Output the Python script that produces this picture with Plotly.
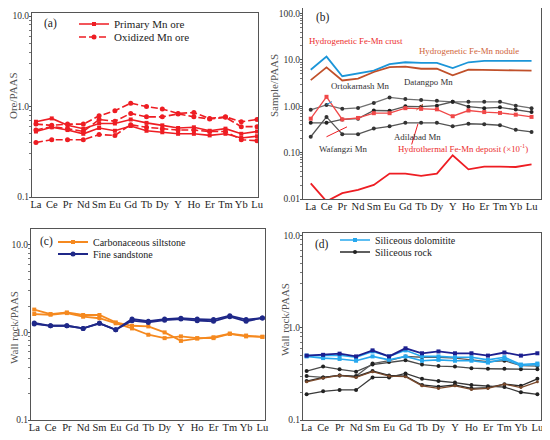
import plotly.graph_objects as go
from plotly.subplots import make_subplots

ree = ["La", "Ce", "Pr", "Nd", "Sm", "Eu", "Gd", "Tb", "Dy", "Y", "Ho", "Er", "Tm", "Yb", "Lu"]

# (a) Mn ores normalised to PAAS
primary_ore = [
    [0.68, 0.74, 0.62, 0.57, 0.65, 0.65, 0.72, 0.66, 0.62, 0.58, 0.59, 0.54, 0.57, 0.50, 0.53],
    [0.53, 0.59, 0.55, 0.50, 0.58, 0.54, 0.61, 0.54, 0.52, 0.50, 0.50, 0.48, 0.50, 0.45, 0.47],
]
oxidized_ore = [
    [0.64, 0.62, 0.64, 0.64, 0.79, 0.90, 1.09, 1.00, 0.94, 0.84, 0.86, 0.74, 0.77, 0.68, 0.72],
    [0.55, 0.60, 0.57, 0.53, 0.72, 0.69, 0.84, 0.77, 0.77, 0.83, 0.77, 0.73, 0.76, 0.60, 0.60],
    [0.40, 0.43, 0.43, 0.43, 0.49, 0.48, 0.63, 0.59, 0.57, 0.55, 0.55, 0.53, 0.53, 0.43, 0.42],
]

# (b) reference deposits
fe_mn_crust = [6.15, 11.8, 4.45, 5.06, 5.86, 8.1, 8.9, 8.6, 8.6, 6.67, 8.9, 9.5, 9.5, 9.2, 9.5]
fe_mn_nodule = [3.66, 6.9, 3.6, 3.97, 5.49, 7.0, 7.2, 6.45, 6.45, 4.67, 6.15, 6.15, 6.15, 5.95, 5.86]
datangpo = [0.84, 1.07, 0.88, 0.92, 1.18, 1.55, 1.43, 1.36, 1.32, 1.25, 1.25, 1.25, 1.25, 1.03, 0.91]
gray_mn = [0.44, 0.44, 0.52, 0.54, 0.81, 0.80, 1.0, 0.98, 1.03, 1.25, 0.98, 0.91, 0.95, 0.85, 0.75]
ortokarnash = [0.54, 1.6, 0.52, 0.56, 0.71, 0.71, 0.91, 0.88, 0.86, 0.61, 0.81, 0.75, 0.72, 0.66, 0.59]
wafangzi = [0.22, 0.59, 0.25, 0.25, 0.33, 0.37, 0.44, 0.44, 0.44, 0.37, 0.42, 0.41, 0.39, 0.31, 0.28]
hydrothermal = [0.0218, 0.0089, 0.0134, 0.0157, 0.0201, 0.0354, 0.0354, 0.0316, 0.0354, 0.088,
                0.0437, 0.0498, 0.0498, 0.049, 0.0558]

# (c) wall rocks
carb_siltstone = [
    [1.82, 1.62, 1.69, 1.58, 1.58, 1.30, 1.19, 1.17, 1.0, 0.80, 0.85, 0.88, 0.97, 0.92, 0.89],
    [1.62, 1.59, 1.66, 1.51, 1.45, 1.27, 1.11, 0.94, 0.86, 0.90, 0.86, 0.86, 0.96, 0.90, 0.89],
]
fine_sandstone = [
    [1.28, 1.19, 1.19, 1.11, 1.27, 1.07, 1.42, 1.34, 1.42, 1.45, 1.42, 1.40, 1.55, 1.40, 1.46],
    [1.25, 1.19, 1.19, 1.11, 1.27, 1.07, 1.36, 1.30, 1.38, 1.42, 1.36, 1.34, 1.51, 1.34, 1.46],
]

# (d) wall rocks
dolomitite_dark = [0.50, 0.51, 0.525, 0.49, 0.57, 0.49, 0.60, 0.53, 0.555, 0.53, 0.53, 0.50, 0.54, 0.50, 0.53]
dolomitite = [
    [0.50, 0.50, 0.505, 0.48, 0.555, 0.49, 0.57, 0.49, 0.49, 0.48, 0.48, 0.45, 0.48, 0.40, 0.41],
    [0.49, 0.47, 0.46, 0.44, 0.49, 0.45, 0.49, 0.44, 0.45, 0.44, 0.44, 0.42, 0.46, 0.39, 0.40],
]
siliceous_rock = [
    [0.34, 0.38, 0.355, 0.335, 0.40, 0.425, 0.445, 0.40, 0.385, 0.38, 0.365, 0.36, 0.36, 0.355, 0.355],
    [0.30, 0.29, 0.305, 0.30, 0.41, 0.44, 0.49, 0.48, 0.48, 0.47, 0.45, 0.43, 0.44, 0.39, 0.385],
    [0.265, 0.29, 0.305, 0.295, 0.34, 0.305, 0.30, 0.24, 0.23, 0.24, 0.22, 0.225, 0.245, 0.235, 0.28],
    [0.19, 0.205, 0.212, 0.212, 0.29, 0.29, 0.32, 0.28, 0.265, 0.255, 0.24, 0.232, 0.228, 0.20, 0.19],
]
siliceous_rock_brown = [0.26, 0.285, 0.305, 0.29, 0.335, 0.30, 0.295, 0.235, 0.22, 0.235, 0.215, 0.22, 0.245, 0.225, 0.26]

FONT = "Liberation Serif"
RED = "#ee1d23"
# page body keeps an 8px margin, so the figure is 8px smaller and positions are shifted
OFF = 8
W, H = 550 - OFF, 440 - OFF


def px(x):
    return min(1, max(0, (x - OFF) / W))


def py(y):
    return min(1, max(0, 1 - (y - OFF) / H))


fig = make_subplots(rows=2, cols=2)


def add_line(row, col, y, color, symbol=None, size=4, dash="solid", width=1.6, name=None,
             legend="legend", show=False, mcolor=None):
    fig.add_trace(go.Scatter(
        x=ree, y=y, mode="lines+markers" if symbol else "lines",
        line=dict(color=color, width=width, dash=dash),
        marker=dict(symbol=symbol or "circle", size=size, color=mcolor or color),
        name=name, legend=legend, showlegend=show,
    ), row=row, col=col)


# panel (a)
for i, y in enumerate(primary_ore):
    add_line(1, 1, y, RED, "square", 4, name="Primary Mn ore", legend="legend", show=i == 0)
for i, y in enumerate(oxidized_ore):
    add_line(1, 1, y, RED, "circle", 5, dash="7px,3px", name="Oxidized Mn ore",
             legend="legend2", show=i == 0)

# panel (b)
add_line(1, 2, fe_mn_crust, "#1b95d8", width=1.8)
add_line(1, 2, fe_mn_nodule, "#c0502a", width=1.8)
add_line(1, 2, datangpo, "#707070", "circle", 4, width=1.3, mcolor="#333")
add_line(1, 2, gray_mn, "#555555", "circle", 4, width=1.3, mcolor="#222")
add_line(1, 2, ortokarnash, "#f04848", "square", 4, width=1.3)
add_line(1, 2, wafangzi, "#555555", "circle", 4, width=1.3, mcolor="#333")
add_line(1, 2, hydrothermal, RED, width=1.8)

# panel (c)
for i, y in enumerate(carb_siltstone):
    add_line(2, 1, y, "#f5891f", "square", 4, width=1.8, name="Carbonaceous siltstone",
             legend="legend3", show=i == 0)
for i, y in enumerate(fine_sandstone):
    add_line(2, 1, y, "#1f2888", "circle", 5, width=1.8, name="Fine sandstone",
             legend="legend4", show=i == 0)

# panel (d)
rock_colors = ["#4a4a4a", "#5a5a5a", "#2a2a2a", "#3a3a3a"]
for i, y in enumerate(siliceous_rock):
    add_line(2, 2, y, rock_colors[i], "circle", 4, width=1.3, name="Siliceous rock",
             legend="legend6", show=i == 2, mcolor="#222")
add_line(2, 2, siliceous_rock_brown, "#7a4a2c", "circle", 3, width=1.3)
for i, y in enumerate(dolomitite):
    add_line(2, 2, y, "#27a8ee", "square", 4, width=1.6, name="Siliceous dolomitite",
             legend="legend5", show=i == 0)
add_line(2, 2, dolomitite_dark, "#1c1f8f", "square", 4, width=1.8)

# plot boxes, in pixels: (left, right, top, bottom, x range, log y range)
boxes = {
    1: (32, 258, 13, 197, [-0.25, 14.06], [-1, 1.035]),
    2: (303, 541, 8, 199, [-0.49, 14.6], [-2, 2.12]),
    3: (31, 265, 229, 420, [-0.2, 14.16], [-1, 1.18]),
    4: (303, 541, 233, 420, [-0.22, 14.22], [-1, 1.03]),
}
for k, (x0, x1, y0, y1, xr, yr) in boxes.items():
    sx = "" if k == 1 else str(k)
    fig.layout["xaxis" + sx].update(
        domain=[px(x0), px(x1)], range=xr, type="category", categoryarray=ree,
        showline=True, mirror=True, linecolor="#555", linewidth=1, showgrid=False,
        ticks="", tickangle=0, tickfont=dict(family=FONT, size=10.5, color="#222"),
        ticklabelstandoff=-3, automargin=False,
    )
    if k == 2:
        tv, tt = [0.01, 0.1, 1, 10, 100], ["0.01", "0.10", "1.00", "10.0", "100.0"]
    else:
        tv, tt = [0.1, 1, 10], ["0.1", "1.0", "10.0"]
    fig.layout["yaxis" + sx].update(
        domain=[py(y1), py(y0)], type="log", range=yr,
        showline=True, mirror=True, linecolor="#555", linewidth=1, showgrid=False,
        tickvals=tv, ticktext=tt, ticks="outside", ticklen=2, tickcolor="#555",
        minor=dict(ticks="outside", ticklen=2, dtick="D1", tickcolor="#777", showgrid=False),
        tickfont=dict(family=FONT, size=9.5, color="#333"), ticklabelstandoff=-2,
        ticklabeloverflow="allow", automargin=False,
    )

# y axis titles
y_titles = [("Ore/PAAS", 13, 96), ("Sample/PAAS", 274, 86),
            ("Wall rock/PAAS", 14, 328), ("Wall rock/PAAS", 285, 320)]
for text, x, y in y_titles:
    fig.add_annotation(text=text, x=px(x), y=py(y), xref="paper", yref="paper",
                       textangle=-90, showarrow=False, xanchor="center", yanchor="middle",
                       font=dict(family=FONT, size=11, color="#555"))

legend_style = dict(bgcolor="rgba(0,0,0,0)", xanchor="left", yanchor="middle",
                    itemwidth=30, borderwidth=0)
# one legend per entry so each row sits where the picture has it: (x, y, font size)
legend_pos = {"legend": (74, 24, 11), "legend2": (74, 37, 11), "legend3": (53, 242, 10),
              "legend4": (53, 254, 10), "legend5": (335, 240, 10), "legend6": (335, 252, 10)}
fig.update_layout(
    width=W, height=H, margin=dict(l=0, r=0, t=0, b=0),
    paper_bgcolor="white", plot_bgcolor="white",
    **{k: dict(x=px(x), y=py(y), font=dict(family=FONT, size=s, color="#222"), **legend_style)
       for k, (x, y, s) in legend_pos.items()},
)

panel_tags = [("(a)", 42, 24), ("(b)", 314, 17), ("(c)", 38, 242), ("(d)", 313, 244)]
for tag, x, y in panel_tags:
    fig.add_annotation(text=tag, x=px(x), y=py(y), xref="paper", yref="paper",
                       xanchor="left", yanchor="middle", showarrow=False,
                       font=dict(family=FONT, size=11.5, color="#222"))

# labels in panel (b): (text, x index, log10 y, colour)
b_labels = [
    ("Hydrogenetic Fe-Mn crust", -0.17, 1.41, "#ec2d2d"),
    ("Hydrogenetic Fe-Mn nodule", 6.8, 1.2, "#d0643a"),
    ("Ortokarnash Mn", 1.22, 0.44, "#333"),
    ("Datangpo Mn", 5.85, 0.52, "#333"),
    ("Adilabad Mn", 5.21, -0.66, "#333"),
    ("Wafangzi Mn", 0.46, -0.92, "#333"),
    ("Hydrothermal Fe-Mn deposit (×10<sup>-1</sup>)", 5.47, -0.92, "#ec2d2d"),
]
for text, xi, ly, c in b_labels:
    fig.add_annotation(text=text, x=xi, y=ly, xref="x2", yref="y2", xanchor="left",
                       yanchor="middle", showarrow=False, borderpad=0,
                       font=dict(family=FONT, size=8.8, color=c))

# leader lines: (x0, y0, x1, y1) in index / log10 units
b_leaders = [
    (1.35, 1.26, 1.0, 1.09, "#1b95d8"),
    (7.11, 1.11, 6.7, 0.83, "#c0502a"),
    (2.3, 0.36, 1.0, 0.22, RED),
    (6.8, 0.42, 6.4, 0.15, RED),
    (5.66, -0.56, 6.0, -0.37, RED),
    (1.22, -0.79, 1.0, -0.24, RED),
    (8.5, -0.84, 8.3, -1.0, RED),
]
for x0, y0, x1, y1, c in b_leaders:
    fig.add_shape(type="line", x0=x0, y0=y0, x1=x1, y1=y1, xref="x2", yref="y2",
                  line=dict(color=c, width=1))

fig.write_html("out.html")
